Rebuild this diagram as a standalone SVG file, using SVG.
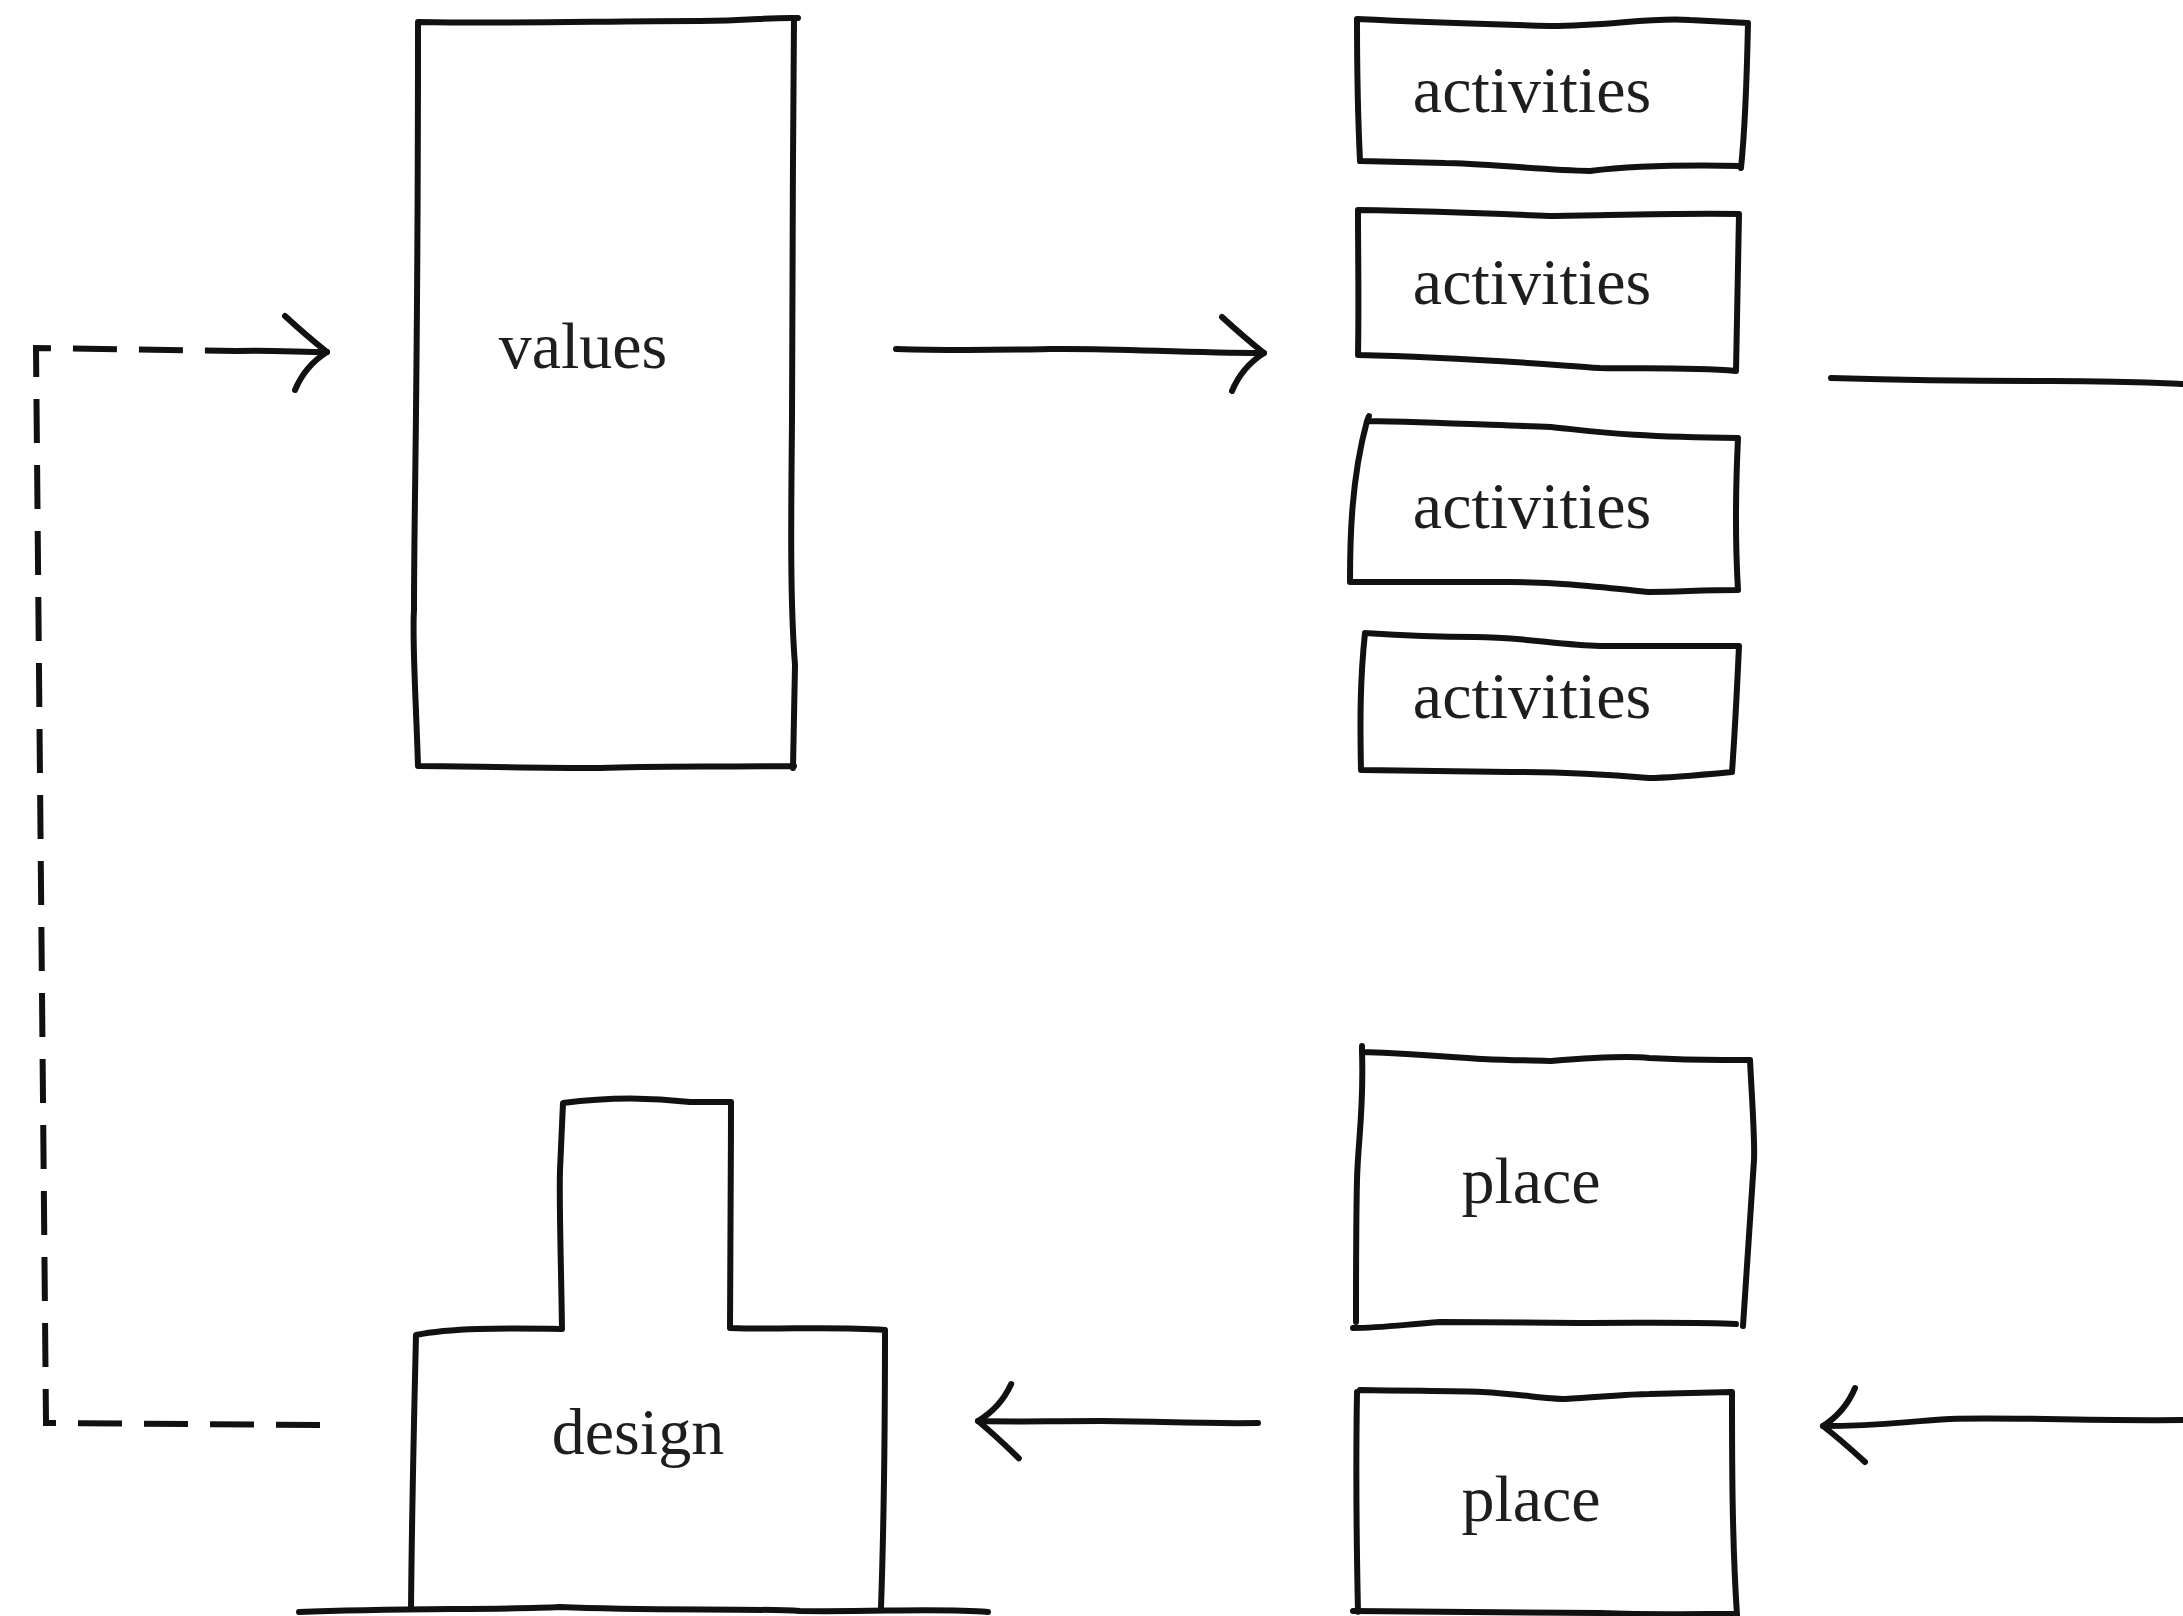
<svg xmlns="http://www.w3.org/2000/svg" width="2183" height="1616" viewBox="0 0 2183 1616">
<style>
.bg{fill:#ffffff}
.ink{fill:none;stroke:#111;stroke-width:6;stroke-linecap:round;stroke-linejoin:round}
.dash{fill:none;stroke:#111;stroke-width:6;stroke-linecap:butt;stroke-dasharray:44 22}
.lbl{font-family:"Liberation Serif","Times New Roman",serif;font-size:66px;fill:#1e1e1e;text-anchor:middle}
</style>
<defs>
<marker id="ah" markerUnits="userSpaceOnUse" markerWidth="80" markerHeight="100" viewBox="-60 -50 80 100" refX="0" refY="0" orient="auto" overflow="visible">
<path d="M-42,-36 Q-18,-14 0,0 Q-22,14 -32,38" fill="none" stroke="#111" stroke-width="6" stroke-linecap="round" stroke-linejoin="round"/>
</marker>
</defs>
<rect class="bg" x="0" y="0" width="2183" height="1616"/>

<g id="values">
<path class="ink" d="M418,22 C520,24 600,21 700,21 C750,21 770,17 798,18 M794,18 C793,150 792,300 792,420 C791,520 790,600 795,665 L793,768 M794,766 C700,767 650,766 600,768 C520,768 460,766 418,766 M418,766 C416,700 412,640 414,610 C414,500 418,400 418,22"/>
<text class="lbl" x="583" y="368">values</text>
</g>

<g id="activities1">
<path class="ink" d="M1357,19 C1420,22 1480,24 1550,26 C1610,26 1650,17 1690,20 L1748,23 M1748,23 C1747,70 1746,120 1741,168 M1741,166 C1690,165 1640,165 1590,171 C1540,170 1480,163 1445,163 L1360,161 M1360,161 C1358,120 1357,60 1357,19"/>
<text class="lbl" x="1532" y="112">activities</text>
</g>

<g id="activities2">
<path class="ink" d="M1358,210 C1420,211 1480,213 1550,216 C1620,215 1680,213 1739,214 M1739,214 C1738,270 1737,320 1736,371 M1736,371 C1690,367 1640,369 1600,368 C1540,364 1460,357 1358,355 M1358,355 C1359,300 1358,260 1358,210"/>
<text class="lbl" x="1532" y="304">activities</text>
</g>

<g id="activities3">
<path class="ink" d="M1369,416 L1367,421 C1430,422 1490,425 1551,427 C1600,432 1630,437 1738,438 M1738,438 C1736,480 1735,540 1738,590 M1738,590 C1700,590 1680,592 1649,592 C1600,587 1560,582 1510,582 L1350,582 M1350,582 C1350,540 1351,480 1367,421"/>
<text class="lbl" x="1532" y="528">activities</text>
</g>

<g id="activities4">
<path class="ink" d="M1365,633 C1410,636 1440,637 1475,637 C1520,637 1560,645 1600,646 L1739,646 M1739,646 C1737,690 1735,730 1732,772 M1732,772 C1690,776 1660,778 1649,778 C1600,774 1560,772 1510,772 L1361,770 M1361,770 C1360,720 1360,680 1365,633"/>
<text class="lbl" x="1532" y="718">activities</text>
</g>

<g id="place1">
<path class="ink" d="M1362,1046 L1362,1052 C1420,1054 1450,1057 1482,1059 C1520,1061 1540,1060 1551,1061 C1600,1057 1630,1056 1649,1058 C1700,1061 1720,1060 1750,1060 M1750,1060 C1752,1100 1755,1140 1754,1160 C1750,1220 1746,1280 1743,1326 M1736,1324 C1700,1322 1650,1323 1579,1323 C1500,1322 1460,1322 1440,1322 C1400,1325 1380,1328 1353,1328 M1356,1322 C1356,1280 1356,1220 1357,1180 C1358,1140 1364,1110 1362,1052"/>
<text class="lbl" x="1531" y="1203">place</text>
</g>

<g id="place2">
<path class="ink" d="M1360,1390 C1420,1391 1460,1391 1482,1392 C1520,1394 1545,1399 1565,1399 C1600,1397 1630,1394 1649,1394 L1732,1392 M1357,1392 C1356,1450 1356,1520 1358,1612 M1732,1392 C1732,1460 1732,1540 1737,1615 M1353,1611 C1420,1611 1500,1612 1600,1613 C1650,1615 1700,1614 1737,1614"/>
<text class="lbl" x="1531" y="1521">place</text>
</g>

<g id="design">
<path class="ink" d="M411,1609 C412,1500 414,1420 416,1335 C450,1328 500,1328 562,1329 C561,1260 559,1200 560,1170 L563,1103 C600,1098 640,1096 690,1102 L731,1102 C731,1180 730,1260 730,1328 C780,1330 830,1326 885,1330 C885,1420 884,1520 881,1608"/>
<path class="ink" d="M299,1612 C400,1608 500,1610 560,1607 C650,1611 750,1608 800,1611 C880,1612 940,1608 988,1612"/>
<text class="lbl" x="638" y="1454">design</text>
</g>

<g id="connectors">
<path class="ink" d="M896,349 C960,351 1000,350 1050,349 C1120,348 1180,353 1264,353" marker-end="url(#ah)"/>
<path class="ink" d="M1831,378 C1900,380 2000,381 2050,381 C2120,381 2160,383 2183,384"/>
<path class="ink" d="M2183,1420 C2100,1421 2000,1417 1950,1419 C1900,1422 1880,1426 1823,1426" marker-end="url(#ah)"/>
<path class="ink" d="M1258,1423 C1200,1424 1150,1421 1100,1421 C1050,1421 1010,1422 978,1421" marker-end="url(#ah)"/>
<path class="dash" d="M320,1425 L46,1423 L36,348 L236,351"/>
<path class="ink" d="M237,351 C270,350 300,352 327,352" marker-end="url(#ah)"/>
</g>
</svg>
